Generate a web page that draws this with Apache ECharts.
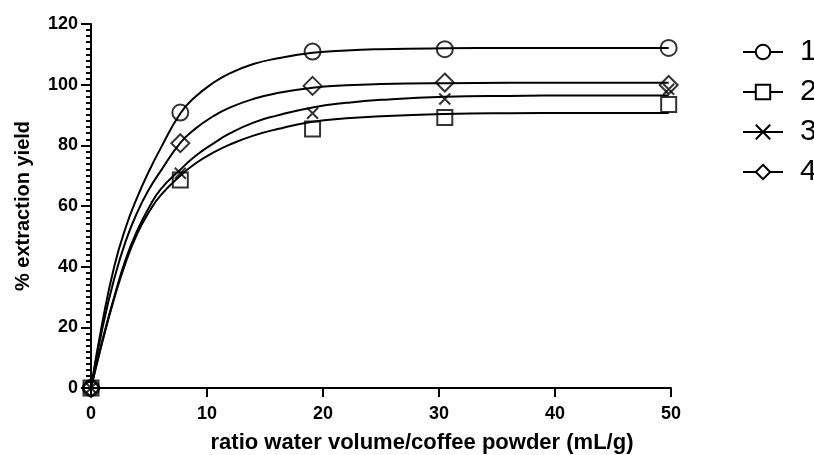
<!DOCTYPE html>
<html>
<head>
<meta charset="utf-8">
<script src="https://cdn.jsdelivr.net/npm/echarts@6/dist/echarts.min.js"></script>
<style>
  html, body { margin: 0; padding: 0; background: #fff; }
  #chart { width: 814px; height: 455px; }
</style>
</head>
<body>
<div id="chart"></div>
<script>
// measured points (ratio mL/g vs % extraction yield)
const ratios = [0, 7.7, 19.1, 30.5, 49.8];
const yield1 = [0, 90.8, 110.9, 111.7, 112.1];
const yield2 = [0, 68.6, 85.4, 89.2, 93.5];
const yield3 = [0, 70.8, 90.6, 95.3, 98.5];
const yield4 = [0, 80.7, 99.6, 100.7, 99.9];

// fitted curves
const curveX = [0, 1, 2, 3, 4, 5, 6, 7.7, 9, 10.5, 12, 14, 16, 19.1, 22, 25, 30.5, 36, 42, 49.8];
const curve1 = [0, 22, 40, 53, 63, 71.5, 79, 90.5, 96, 100.5, 103.8, 106.8, 108.6, 110.5, 111.3, 111.7, 112, 112.1, 112.1, 112.1];
const curve2 = [0, 15.5, 29.5, 41.5, 51, 58, 63.5, 70, 74, 77.5, 80.3, 83.2, 85.3, 87.8, 88.9, 89.6, 90.3, 90.6, 90.7, 90.7];
const curve3 = [0, 16, 30, 42.5, 52, 59.5, 65.5, 72, 76.5, 80.5, 84, 87.5, 89.8, 92.5, 94, 95, 96, 96.3, 96.4, 96.4];
const curve4 = [0, 20, 36, 48.5, 58, 65.5, 71.5, 80.8, 85.5, 89.5, 92.5, 95.3, 97.2, 99, 99.8, 100.2, 100.5, 100.6, 100.6, 100.6];

const seriesNames = ['1', '2', '3', '4'];
const CROSS = 'path://M0,0L10,10M10,0L0,10';

const pair = (xs, ys) => xs.map((x, i) => [x, ys[i]]);
const FONT = "'Liberation Sans', Arial, sans-serif";

const markers = [
  { name: '1', points: yield1, curve: curve1, symbol: 'circle', size: 16, legendSymbol: 'emptyCircle' },
  { name: '2', points: yield2, curve: curve2, symbol: 'rect', size: 15, legendSymbol: 'emptyRect' },
  { name: '3', points: yield3, curve: curve3, symbol: CROSS, size: 11, legendSymbol: CROSS },
  { name: '4', points: yield4, curve: curve4, symbol: 'diamond', size: 18, legendSymbol: 'emptyDiamond' },
];

const series = [];
markers.forEach((m) => {
  series.push({
    name: m.name,
    type: 'line',
    smooth: 0.5,
    showSymbol: false,
    symbol: m.legendSymbol,
    symbolSize: 14,
    silent: true,
    lineStyle: { color: '#000', width: 2 },
    itemStyle: { color: m.symbol === CROSS ? 'transparent' : '#000', borderColor: '#000', borderWidth: 2 },
    data: pair(curveX, m.curve),
    z: 2,
  });
});
markers.forEach((m) => {
  series.push({
    name: 'pts' + m.name,
    type: 'scatter',
    symbol: m.symbol,
    symbolSize: m.size,
    itemStyle: { color: 'transparent', borderColor: '#000', borderWidth: 2 },
    data: pair(ratios, m.points),
    z: 3,
  });
});

const chart = echarts.init(document.getElementById('chart'));
chart.setOption({
  backgroundColor: '#fff',
  animation: false,
  grid: { left: 91, right: 143, top: 24, bottom: 67, containLabel: false, outerBoundsMode: 'none' },
  legend: {
    data: seriesNames,
    orient: 'vertical',
    left: 737,
    top: 32,
    itemWidth: 40,
    itemHeight: 18,
    itemGap: 10,
    selectedMode: false,
    textStyle: { color: '#000', fontSize: 30, fontFamily: FONT, padding: [0, 0, 0, 12] },
  },
  xAxis: {
    type: 'value',
    min: 0,
    max: 50,
    interval: 10,
    name: 'ratio water volume/coffee powder (mL/g)',
    nameLocation: 'middle',
    nameGap: 44,
    nameTextStyle: { color: '#000', fontSize: 22, fontWeight: 'bold', fontFamily: FONT, padding: [0, 0, 0, 82] },
    axisLine: { show: true, lineStyle: { color: '#000', width: 2 } },
    axisTick: { show: true, inside: false, length: 9, lineStyle: { color: '#000', width: 2 } },
    axisLabel: { color: '#000', fontSize: 18, fontWeight: 'bold', fontFamily: FONT, margin: 17 },
    splitLine: { show: false },
  },
  yAxis: {
    type: 'value',
    min: 0,
    max: 120,
    interval: 20,
    name: '% extraction yield',
    nameLocation: 'middle',
    nameGap: 58,
    nameTextStyle: { color: '#000', fontSize: 20, fontWeight: 'bold', fontFamily: FONT },
    axisLine: { show: true, lineStyle: { color: '#000', width: 2 } },
    axisTick: { show: true, inside: false, length: 10, lineStyle: { color: '#000', width: 2 } },
    minorTick: { show: true, splitNumber: 10, length: 5, lineStyle: { color: '#000', width: 2 } },
    axisLabel: { color: '#000', fontSize: 18, fontWeight: 'bold', fontFamily: FONT, margin: 13 },
    splitLine: { show: false },
  },
  series,
});
</script>
</body>
</html>
